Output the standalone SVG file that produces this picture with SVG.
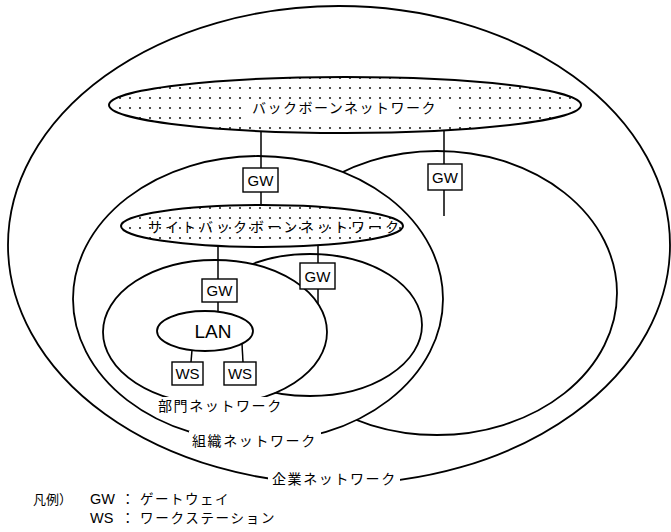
<svg xmlns="http://www.w3.org/2000/svg" width="671" height="532" viewBox="0 0 671 532">
<defs>
<pattern id="dots" patternUnits="userSpaceOnUse" x="-5" y="3" width="10" height="10">
<circle cx="5" cy="5" r="1" fill="#111"/>
</pattern>
<style>
.area{fill:#fff;stroke:#000;stroke-width:1.8}
.dot{fill:url(#dots);stroke:#000;stroke-width:2}
.box{fill:#fff;stroke:#000;stroke-width:1.4}
.con{stroke:#000;stroke-width:1.5;fill:none}
.bg{fill:#fff;stroke:none}
.jp{font-family:"Noto Sans CJK JP","Noto Sans",sans-serif;font-size:14px;fill:#000}
.lat{font-family:"Liberation Sans",Arial,sans-serif;font-size:15px;fill:#000}
.leg{font-family:"Noto Sans CJK JP","Noto Sans",sans-serif;font-size:13.5px;fill:#000}
.legl{font-family:"Liberation Sans",Arial,sans-serif;font-size:14.5px;fill:#000}
</style>
</defs>
<rect width="671" height="532" fill="#fff"/>

<g id="enterprise"><ellipse class="area" cx="339" cy="245" rx="331" ry="239"/></g>
<g id="org-back"><ellipse class="area" cx="437" cy="293" rx="180" ry="142"/></g>
<g id="org-front"><ellipse class="area" cx="258" cy="299" rx="185" ry="143"/></g>
<g id="dept-back"><ellipse class="area" cx="310" cy="325" rx="112" ry="71"/></g>
<g id="dept-front"><ellipse class="area" cx="215" cy="332" rx="112" ry="72"/></g>

<g id="backbone">
<ellipse class="dot" cx="345" cy="105" rx="236" ry="28"/>
<rect class="bg" x="246" y="102" width="206" height="21"/>
<text class="jp" x="252" y="113" letter-spacing="1.5">バックボーンネットワーク</text>
</g>
<g id="site-backbone">
<ellipse class="dot" cx="262" cy="226" rx="141" ry="21"/>
<text class="jp" x="148" y="232" letter-spacing="3">サイトバックボーンネットワーク</text>
</g>
<g id="lan">
<ellipse class="area" cx="205" cy="331" rx="48" ry="20"/>
<text class="lat" x="213" y="338" text-anchor="middle" style="font-size:19px">LAN</text>
</g>

<g id="connectors">
<line class="con" x1="261" y1="131" x2="261" y2="168"/>
<line class="con" x1="261" y1="192" x2="261" y2="205"/>
<line class="con" x1="444" y1="130" x2="444" y2="164"/>
<line class="con" x1="444" y1="190" x2="444" y2="216"/>
<line class="con" x1="218" y1="246" x2="218" y2="279"/>
<line class="con" x1="218" y1="302" x2="218" y2="312"/>
<line class="con" x1="318" y1="245" x2="318" y2="263"/>
<line class="con" x1="318" y1="289" x2="318" y2="304"/>
<line class="con" x1="192" y1="350" x2="191" y2="362"/>
<line class="con" x1="242" y1="344" x2="243" y2="362"/>
</g>

<g id="gw-backbone">
<rect class="box" x="243" y="168" width="35" height="24"/>
<text class="lat" x="260.5" y="186" text-anchor="middle">GW</text>
</g>
<g id="gw-backbone-right">
<rect class="box" x="428" y="164" width="34" height="26"/>
<text class="lat" x="445" y="183" text-anchor="middle">GW</text>
</g>
<g id="gw-site">
<rect class="box" x="202" y="279" width="35" height="23"/>
<text class="lat" x="219.5" y="296" text-anchor="middle">GW</text>
</g>
<g id="gw-site-right">
<rect class="box" x="300" y="263" width="35" height="26"/>
<text class="lat" x="317.5" y="282" text-anchor="middle">GW</text>
</g>
<g id="ws1">
<rect class="box" x="172" y="362" width="31" height="23"/>
<text class="lat" x="187.5" y="379" text-anchor="middle">WS</text>
</g>
<g id="ws2">
<rect class="box" x="224" y="362" width="32" height="23"/>
<text class="lat" x="240" y="379" text-anchor="middle">WS</text>
</g>

<g id="labels">
<rect class="bg" x="154" y="397" width="118" height="17"/>
<text class="jp" x="158" y="411" letter-spacing="1.6">部門ネットワーク</text>
<rect class="bg" x="189" y="431" width="132" height="18"/>
<text class="jp" x="192" y="446" letter-spacing="1.6">組織ネットワーク</text>
<rect class="bg" x="268" y="469" width="132" height="18"/>
<text class="jp" x="272" y="484" letter-spacing="1.6">企業ネットワーク</text>
</g>

<g id="legend">
<text class="leg" x="33" y="504" style="font-size:13px">凡例）</text>
<text class="leg" y="504"><tspan class="legl" x="90">GW</tspan><tspan x="121">：</tspan><tspan x="140" letter-spacing="1.5">ゲートウェイ</tspan></text>
<text class="leg" y="523"><tspan class="legl" x="90">WS</tspan><tspan x="121">：</tspan><tspan x="140" letter-spacing="1.7">ワークステーション</tspan></text>
</g>
</svg>
